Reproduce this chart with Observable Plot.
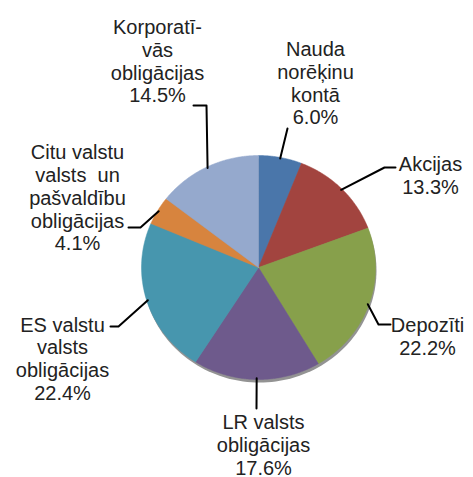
<!DOCTYPE html>
<html><head><meta charset="utf-8">
<script src="https://cdn.jsdelivr.net/npm/d3@7"></script>
<script src="https://cdn.jsdelivr.net/npm/@observablehq/plot@0.6"></script>
<style>
body{margin:0;background:#fff}
svg text{white-space:pre}
</style>
</head><body><div id="chart"></div>
<script>
// ---- data ----
const categories = ["Nauda norēķinu kontā","Akcijas","Depozīti","LR valsts obligācijas","ES valstu valsts obligācijas","Citu valstu valsts un pašvaldību obligācijas","Korporatīvās obligācijas"];
const labelLines = [["Nauda","norēķinu","kontā"],["Akcijas"],["Depozīti"],["LR valsts","obligācijas"],["ES valstu","valsts","obligācijas"],["Citu valstu","valsts  un","pašvaldību","obligācijas"],["Korporatī-","vās","obligācijas"]];
const shares = [6.0,13.3,22.2,17.6,22.4,4.1,14.5];
const colors = ["#4A76AA","#A2443F","#87A04B","#6E5A8C","#4796AE","#D7843E","#95A9CD"];

// ---- layout (pixels) ----
const W = 473, H = 477, cx = 258, cy = 267, rx = 117, ry = 112;
const labelPos = [[315,82.5],[430,175],[427,335.5],[263,444],[62,358],[77,197],[157,60.5]];
const leaderBends = [[[287,128]],[[384,167],[395,167]],[[378,324],[390,324]],[[256,408]],[[118,326],[110,326]],[[140,227],[128,227]],[[206,105],[193,105]]];

const arcs = d3.pie().sort(null).value(d => d)(shares);
const pt = (a, k = 1) => [cx + k * rx * Math.sin(a), cy - k * ry * Math.cos(a)];

const slicePts = [];
arcs.forEach((a, i) => {
  const name = categories[i];
  slicePts.push({name, x: cx, y: cy});
  const n = Math.max(4, Math.ceil((a.endAngle - a.startAngle) / 0.01));
  for (let j = 0; j <= n; j++) {
    const t = a.startAngle + (a.endAngle - a.startAngle) * j / n;
    const [x, y] = pt(t);
    slicePts.push({name, x, y});
  }
  slicePts.push({name, x: cx, y: cy});
});

const shadowPts = d3.range(0, 361, 2).map(d => {
  const [x, y] = pt(d * Math.PI / 180);
  return {x: x + 1, y: y + 3};
});

const leaderPts = [];
arcs.forEach((a, i) => {
  const mid = (a.startAngle + a.endAngle) / 2;
  const [x0, y0] = pt(mid, 0.99);
  leaderPts.push({name: categories[i], x: x0, y: y0});
  leaderBends[i].forEach(([x, y]) => leaderPts.push({name: categories[i], x, y}));
});

const labels = categories.map((c, i) => ({
  name: c,
  text: labelLines[i].concat([shares[i].toFixed(1) + "%"]).join("\n"),
  x: labelPos[i][0], y: labelPos[i][1]
}));

const chart = Plot.plot({
  width: W, height: H,
  margin: 0,
  x: {domain: [0, W], range: [0, W], axis: null},
  y: {domain: [0, H], range: [0, H], axis: null},
  color: {domain: categories, range: colors},
  style: {fontFamily: "'Liberation Sans', Arial, sans-serif", background: "#fff"},
  marks: [
    Plot.line(shadowPts, {x: "x", y: "y", fill: "#3a3a3a", fillOpacity: 0.55, stroke: "none"}),
    Plot.line(slicePts, {x: "x", y: "y", z: "name", fill: "name", stroke: "name", strokeWidth: 0.5, curve: "linear"}),
    Plot.line(leaderPts, {x: "x", y: "y", z: "name", stroke: "#000", strokeWidth: 2}),
    Plot.text(labels, {x: "x", y: "y", text: "text", fontSize: 20, lineHeight: 1.14, fill: "#222", lineAnchor: "middle", textAnchor: "middle"})
  ]
});
document.getElementById("chart").appendChild(chart);
</script>
</body></html>
